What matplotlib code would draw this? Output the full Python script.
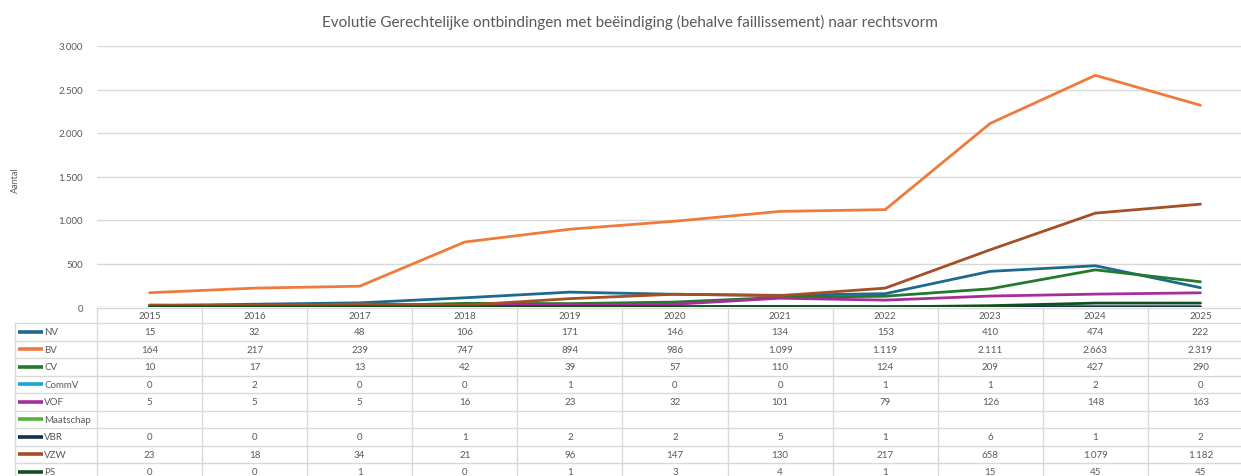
import numpy as np
import matplotlib.pyplot as plt

plt.rcParams['font.family'] = ['Lato', 'DejaVu Sans']

jaren = [2015, 2016, 2017, 2018, 2019, 2020, 2021, 2022, 2023, 2024, 2025]
reeksen = ['NV', 'BV', 'CV', 'CommV', 'VOF', 'Maatschap', 'VBR', 'VZW', 'PS']
kleuren = ['#1D6A8E', '#EE7B3B', '#237A2C', '#1BA3DC', '#A62E9A', '#56B13A',
           '#12304A', '#A44F25', '#14501D']

nv = [15, 32, 48, 106, 171, 146, 134, 153, 410, 474, 222]
bv = [164, 217, 239, 747, 894, 986, 1099, 1119, 2111, 2663, 2319]
cv = [10, 17, 13, 42, 39, 57, 110, 124, 209, 427, 290]
commv = [0, 2, 0, 0, 1, 0, 0, 1, 1, 2, 0]
vof = [5, 5, 5, 16, 23, 32, 101, 79, 126, 148, 163]
maatschap = [None] * 11   # geen gegevens
vbr = [0, 0, 0, 1, 2, 2, 5, 1, 6, 1, 2]
vzw = [23, 18, 34, 21, 96, 147, 130, 217, 658, 1079, 1182]
ps = [0, 0, 1, 0, 1, 3, 4, 1, 15, 45, 45]
waarden = [nv, bv, cv, commv, vof, maatschap, vbr, vzw, ps]

grijs = '#595959'
lijn = '#D9D9D9'

def fmt(v):
    if v is None:
        return ''
    return f'{v:,}'.replace(',', '.')

W, H = 1241, 477
fig = plt.figure(figsize=(W / 100, H / 100), dpi=100)

# Posities in pixels van het Excel-origineel
links, rechts = 97, 1253
nul_y, top_y = 308, 47
ax = fig.add_axes([links / W, 1 - nul_y / H, (rechts - links) / W, (nul_y - top_y) / H])

x = np.arange(len(jaren))
for naam, kleur, reeks in zip(reeksen, kleuren, waarden):
    y = np.array([np.nan if v is None else v for v in reeks], dtype=float)
    ax.plot(x, y, color=kleur, lw=2.0, solid_joinstyle='round', solid_capstyle='round')

ax.set_xlim(-0.5, len(jaren) - 0.5)
ax.set_ylim(0, 3000)
ax.set_yticks(range(0, 3001, 500))
ax.set_yticklabels([fmt(v) for v in range(0, 3001, 500)])
ax.set_xticks([])
ax.tick_params(axis='y', length=0, pad=10, labelsize=7, labelcolor=grijs)
ax.grid(axis='y', color=lijn, lw=1)
ax.set_axisbelow(True)
for s in ax.spines.values():
    s.set_visible(False)
ax.patch.set_alpha(0)

fig.text(15 / W, 1 - 180 / H, 'Aantal', rotation=90, ha='center', va='center',
         fontsize=6.5, color=grijs)
fig.text(630 / W, 1 - 22 / H,
         'Evolutie Gerechtelijke ontbindingen met beëindiging (behalve faillissement) naar rechtsvorm',
         ha='center', va='center', fontsize=11, color=grijs)

# Gegevenstabel onder de grafiek
tabel_top = 309
rij_h = 17.5
kop_h = 15 / rij_h
tb = fig.add_axes([links / W, 0, (rechts - links) / W, 1 - tabel_top / H])
tb.set_xlim(-0.5, len(jaren) - 0.5)
onder = (H - tabel_top) / rij_h - kop_h
tb.set_ylim(onder, -kop_h)
tb.axis('off')

leg_x = -0.5 - (links - 15) / 105.1
n = len(reeksen)
# horizontale lijnen
tb.plot([-0.5, len(jaren) - 0.5], [-kop_h, -kop_h], color=lijn, lw=1, clip_on=False)
for r in range(n):
    tb.plot([leg_x, len(jaren) - 0.5], [r, r], color=lijn, lw=1, clip_on=False)
# verticale lijnen
for k in range(len(jaren) + 1):
    tb.plot([k - 0.5, k - 0.5], [-kop_h, n], color=lijn, lw=1, clip_on=False)
tb.plot([leg_x, leg_x], [0, n], color=lijn, lw=1, clip_on=False)

for i, j in enumerate(jaren):
    tb.text(i, -kop_h / 2, str(j), ha='center', va='center', fontsize=7, color=grijs)

for r, (naam, kleur, reeks) in enumerate(zip(reeksen, kleuren, waarden)):
    tb.plot([leg_x + 0.03, leg_x + 0.27], [r + 0.5, r + 0.5], color=kleur, lw=2.6,
            clip_on=False, solid_capstyle='butt')
    tb.text(leg_x + 0.28, r + 0.5, naam, ha='left', va='center', fontsize=7,
            color=grijs, clip_on=False)
    for i, v in enumerate(reeks):
        tb.text(i, r + 0.5, fmt(v), ha='center', va='center', fontsize=7, color=grijs)

fig.savefig('out.png', dpi=100)
